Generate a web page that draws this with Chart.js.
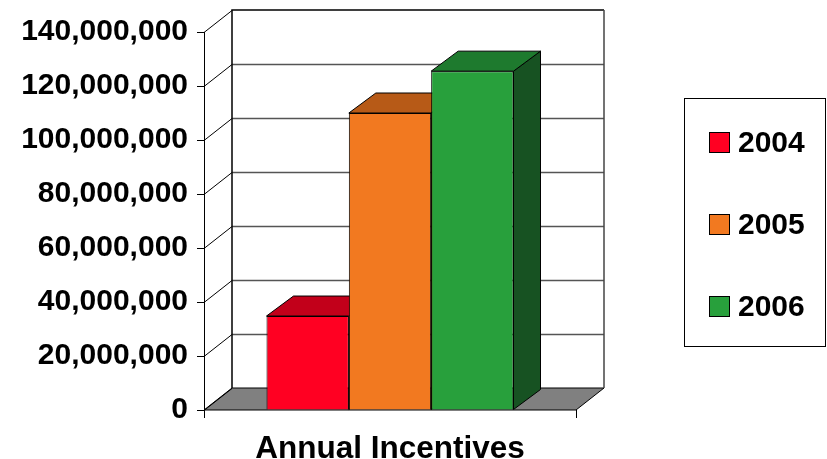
<!DOCTYPE html>
<html>
<head>
<meta charset="utf-8">
<script src="https://cdn.jsdelivr.net/npm/chart.js@4.4.1/dist/chart.umd.min.js"></script>
<style>
  body { margin: 0; background: #fff; }
  #wrap { width: 827px; height: 459px; }
</style>
</head>
<body>
<div id="wrap"><canvas id="chart" width="827" height="459"></canvas></div>
<script>
// data
const categories = ['Annual Incentives'];
const years = ['2004', '2005', '2006'];
const incentives = [34800000, 110000000, 125500000];
const frontColors = ['#ff0022', '#f27920', '#28a03c'];
const topColors = ['#c2001a', '#b75a17', '#1e7a2e'];
const sideColors = ['#8a0012', '#8e4510', '#175222'];
const yMax = 140000000;
const yStep = 20000000;

const FONT = '"Liberation Sans", Arial, sans-serif';
const WALL = { dx: 28, dy: -22 };   // depth of the walls / floor
const BAR = { dx: 27, dy: -20 };    // depth of the columns

// floor, side wall, back wall, and the depth faces of the columns
const box3d = {
  id: 'box3d',
  beforeDatasetsDraw(chart) {
    const ctx = chart.ctx;
    const a = chart.chartArea;
    const y = chart.scales.y;
    ctx.save();
    ctx.lineWidth = 1;

    // floor
    ctx.beginPath();
    ctx.moveTo(a.left, a.bottom);
    ctx.lineTo(a.right, a.bottom);
    ctx.lineTo(a.right + WALL.dx, a.bottom + WALL.dy);
    ctx.lineTo(a.left + WALL.dx, a.bottom + WALL.dy);
    ctx.closePath();
    ctx.fillStyle = '#808080';
    ctx.fill();
    ctx.strokeStyle = '#000';
    ctx.stroke();

    // gridlines on back wall + diagonals on side wall
    y.ticks.forEach(t => {
      const py = Math.round(y.getPixelForValue(t.value)) + 0.5;
      if (t.value > 0 && t.value < yMax) {
        ctx.strokeStyle = '#555';
        ctx.lineWidth = 1.5;
        ctx.beginPath();
        ctx.moveTo(a.left + WALL.dx, py + WALL.dy);
        ctx.lineTo(a.right + WALL.dx, py + WALL.dy);
        ctx.stroke();
      }
      ctx.strokeStyle = '#000';
      ctx.lineWidth = 1;
      ctx.beginPath();
      ctx.moveTo(a.left, py);
      ctx.lineTo(a.left + WALL.dx, py + WALL.dy);
      ctx.stroke();
    });

    // back wall outline
    ctx.strokeStyle = '#000';
    ctx.lineWidth = 1.5;
    ctx.beginPath();
    ctx.moveTo(a.left + WALL.dx, a.bottom + WALL.dy);
    ctx.lineTo(a.left + WALL.dx, a.top + WALL.dy);
    ctx.lineTo(a.right + WALL.dx, a.top + WALL.dy);
    ctx.stroke();
    ctx.strokeStyle = '#444';
    ctx.beginPath();
    ctx.moveTo(a.right + WALL.dx, a.top + WALL.dy);
    ctx.lineTo(a.right + WALL.dx, a.bottom + WALL.dy);
    ctx.stroke();

    // top and side faces of every column, left to right;
    // the front faces drawn by Chart.js afterwards sit in front of all of them
    ctx.lineWidth = 1;
    ctx.strokeStyle = '#000';
    ctx.lineJoin = 'round';
    chart.data.datasets.forEach((ds, i) => {
      chart.getDatasetMeta(i).data.forEach(bar => {
        const l = bar.x - bar.width / 2, r = bar.x + bar.width / 2;
        const t = bar.y, b = bar.base;
        ctx.beginPath();
        ctx.moveTo(r, t);
        ctx.lineTo(r + BAR.dx, t + BAR.dy);
        ctx.lineTo(r + BAR.dx, b + BAR.dy);
        ctx.lineTo(r, b);
        ctx.closePath();
        ctx.fillStyle = sideColors[i];
        ctx.fill();
        ctx.stroke();
        ctx.beginPath();
        ctx.moveTo(l, t);
        ctx.lineTo(r, t);
        ctx.lineTo(r + BAR.dx, t + BAR.dy);
        ctx.lineTo(l + BAR.dx, t + BAR.dy);
        ctx.closePath();
        ctx.fillStyle = topColors[i];
        ctx.fill();
        ctx.stroke();
      });
    });
    ctx.restore();
  }
};

// boxed legend on the right
const boxLegend = {
  id: 'boxLegend',
  afterDraw(chart) {
    const ctx = chart.ctx;
    ctx.save();
    ctx.strokeStyle = '#000';
    ctx.lineWidth = 1;
    ctx.strokeRect(684.5, 98.5, 141, 248);
    ctx.font = 'bold 30px ' + FONT;
    ctx.textBaseline = 'middle';
    chart.data.datasets.forEach((ds, k) => {
      const cy = 143 + k * 82;
      ctx.fillStyle = ds.backgroundColor;
      ctx.fillRect(709.5, cy - 10.5, 20, 20);
      ctx.strokeRect(709.5, cy - 10.5, 20, 20);
      ctx.fillStyle = '#000';
      ctx.fillText(ds.label, 738, cy + 1);
    });
    ctx.restore();
  }
};

new Chart(document.getElementById('chart'), {
  type: 'bar',
  data: {
    labels: categories,
    datasets: years.map((yr, i) => ({
      label: yr,
      data: [incentives[i]],
      backgroundColor: frontColors[i],
      borderColor: '#000',
      borderWidth: 1
    }))
  },
  options: {
    responsive: false,
    animation: false,
    devicePixelRatio: 1,
    layout: { padding: { left: 0, right: 251, top: 32, bottom: 0 } },
    plugins: {
      legend: { display: false },
      tooltip: { enabled: false }
    },
    datasets: {
      bar: { categoryPercentage: 0.664, barPercentage: 1 }
    },
    scales: {
      x: {
        grid: { offset: true, drawOnChartArea: false, tickLength: 8, color: '#000' },
        border: { display: false },
        ticks: {
          color: '#000',
          padding: 12,
          font: { family: FONT, size: 31.5, weight: 'bold' }
        },
        afterFit(scale) { scale.height = 49; }
      },
      y: {
        min: 0,
        max: yMax,
        ticks: {
          stepSize: yStep,
          color: '#000',
          padding: 9,
          font: { family: FONT, size: 30, weight: 'bold' },
          callback: v => v.toLocaleString('en-US')
        },
        grid: { drawOnChartArea: false, tickLength: 7, color: '#000' },
        border: { display: true, color: '#000', width: 1 },
        afterFit(scale) { scale.width = 204; }
      }
    }
  },
  plugins: [box3d, boxLegend]
});
</script>
</body>
</html>
